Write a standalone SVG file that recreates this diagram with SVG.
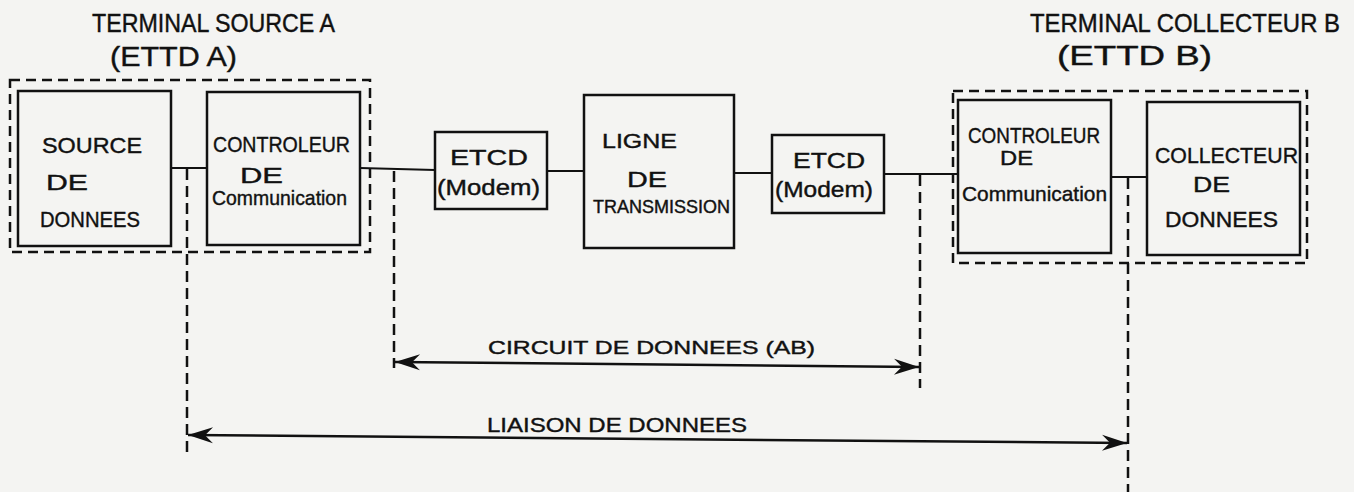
<svg xmlns="http://www.w3.org/2000/svg" width="1354" height="492" viewBox="0 0 1354 492">
<style>
.box{fill:none;stroke:#111;stroke-width:2.5}
.dbox{fill:none;stroke:#111;stroke-width:2.5;stroke-dasharray:10 6}
.wire{stroke:#111;stroke-width:2;fill:none}
.dash{stroke:#111;stroke-width:2.5;stroke-dasharray:11 6;fill:none}
.dim{stroke:#111;stroke-width:2.5;fill:none}
text{font-family:"Liberation Sans",Arial,sans-serif;fill:#111;font-size:22px;stroke:#111;stroke-width:0.4}
.ti{font-size:25px}
.par{font-size:27px}
.m{font-size:21px}
.s{font-size:19px}
.xs{font-size:18px}
</style>
<defs>
<marker id="arr" viewBox="0 0 26 20" refX="26" refY="10" markerWidth="26" markerHeight="20" markerUnits="userSpaceOnUse" orient="auto-start-reverse">
<path d="M1,2 L26,10 L1,18 L9,10 Z" fill="#111"/>
</marker>
</defs>
<rect width="1354" height="492" fill="#f4f4f2"/>

<g id="titleA">
<text x="92" y="32" class="ti" textLength="243" lengthAdjust="spacingAndGlyphs">TERMINAL SOURCE A</text>
<text x="110" y="66" class="par" textLength="127" lengthAdjust="spacingAndGlyphs">(ETTD A)</text>
</g>
<g id="titleB">
<text x="1030" y="32" class="ti" textLength="310" lengthAdjust="spacingAndGlyphs">TERMINAL COLLECTEUR B</text>
<text x="1057" y="65" class="par" textLength="155" lengthAdjust="spacingAndGlyphs">(ETTD B)</text>
</g>

<g id="terminalA">
<rect class="dbox" x="10" y="80" width="360" height="172"/>
</g>
<g id="terminalB">
<rect class="dbox" x="953" y="91" width="354" height="172"/>
</g>

<g id="source">
<rect class="box" x="18" y="91" width="153" height="155"/>
<text x="42" y="153" textLength="100" lengthAdjust="spacingAndGlyphs">SOURCE</text>
<text x="46" y="190" textLength="42" lengthAdjust="spacingAndGlyphs">DE</text>
<text x="40" y="227" textLength="100" lengthAdjust="spacingAndGlyphs">DONNEES</text>
</g>

<g id="controleurA">
<rect class="box" x="207" y="92" width="153" height="153"/>
<text x="213" y="152" textLength="137" lengthAdjust="spacingAndGlyphs">CONTROLEUR</text>
<text x="240" y="183" textLength="43" lengthAdjust="spacingAndGlyphs">DE</text>
<text x="212" y="205" class="m" textLength="135" lengthAdjust="spacingAndGlyphs">Communication</text>
</g>

<g id="etcdA">
<rect class="box" x="435" y="132" width="112" height="77"/>
<text x="450" y="165" textLength="78" lengthAdjust="spacingAndGlyphs">ETCD</text>
<text x="437" y="195" textLength="103" lengthAdjust="spacingAndGlyphs">(Modem)</text>
</g>

<g id="ligne">
<rect class="box" x="584" y="95" width="150" height="153"/>
<text x="602" y="148" class="m" textLength="75" lengthAdjust="spacingAndGlyphs">LIGNE</text>
<text x="627" y="187" textLength="40" lengthAdjust="spacingAndGlyphs">DE</text>
<text x="593" y="213" class="xs" textLength="137" lengthAdjust="spacingAndGlyphs">TRANSMISSION</text>
</g>

<g id="etcdB">
<rect class="box" x="772" y="135" width="112" height="78"/>
<text x="793" y="168" textLength="72" lengthAdjust="spacingAndGlyphs">ETCD</text>
<text x="775" y="197" textLength="98" lengthAdjust="spacingAndGlyphs">(Modem)</text>
</g>

<g id="controleurB">
<rect class="box" x="958" y="100" width="153" height="153"/>
<text x="968" y="143" textLength="132" lengthAdjust="spacingAndGlyphs">CONTROLEUR</text>
<text x="1000" y="165" class="m" textLength="33" lengthAdjust="spacingAndGlyphs">DE</text>
<text x="962" y="201" class="m" textLength="145" lengthAdjust="spacingAndGlyphs">Communication</text>
</g>

<g id="collecteur">
<rect class="box" x="1147" y="102" width="153" height="153"/>
<text x="1155" y="163" textLength="143" lengthAdjust="spacingAndGlyphs">COLLECTEUR</text>
<text x="1193" y="192" textLength="37" lengthAdjust="spacingAndGlyphs">DE</text>
<text x="1165" y="227" textLength="113" lengthAdjust="spacingAndGlyphs">DONNEES</text>
</g>

<g id="connectors">
<line class="wire" x1="171" y1="168" x2="207" y2="168"/>
<line class="wire" x1="360" y1="168" x2="435" y2="170"/>
<line class="wire" x1="547" y1="171" x2="584" y2="171"/>
<line class="wire" x1="734" y1="173" x2="772" y2="173"/>
<line class="wire" x1="884" y1="174" x2="958" y2="174"/>
<line class="wire" x1="1111" y1="177" x2="1147" y2="177"/>
<line class="dash" x1="187" y1="169" x2="187" y2="452"/>
<line class="dash" x1="394" y1="171" x2="394" y2="368"/>
<line class="dash" x1="920" y1="175" x2="920" y2="388"/>
<line class="dash" x1="1128" y1="178" x2="1128" y2="492"/>
<line class="dim" x1="395" y1="362" x2="919" y2="367" marker-start="url(#arr)" marker-end="url(#arr)"/>
<line class="dim" x1="188" y1="435" x2="1127" y2="443" marker-start="url(#arr)" marker-end="url(#arr)"/>
</g>

<g id="labels">
<text x="488" y="354" class="s" textLength="327" lengthAdjust="spacingAndGlyphs">CIRCUIT DE DONNEES (AB)</text>
<text x="487" y="432" class="m" textLength="260" lengthAdjust="spacingAndGlyphs">LIAISON DE DONNEES</text>
</g>
</svg>
